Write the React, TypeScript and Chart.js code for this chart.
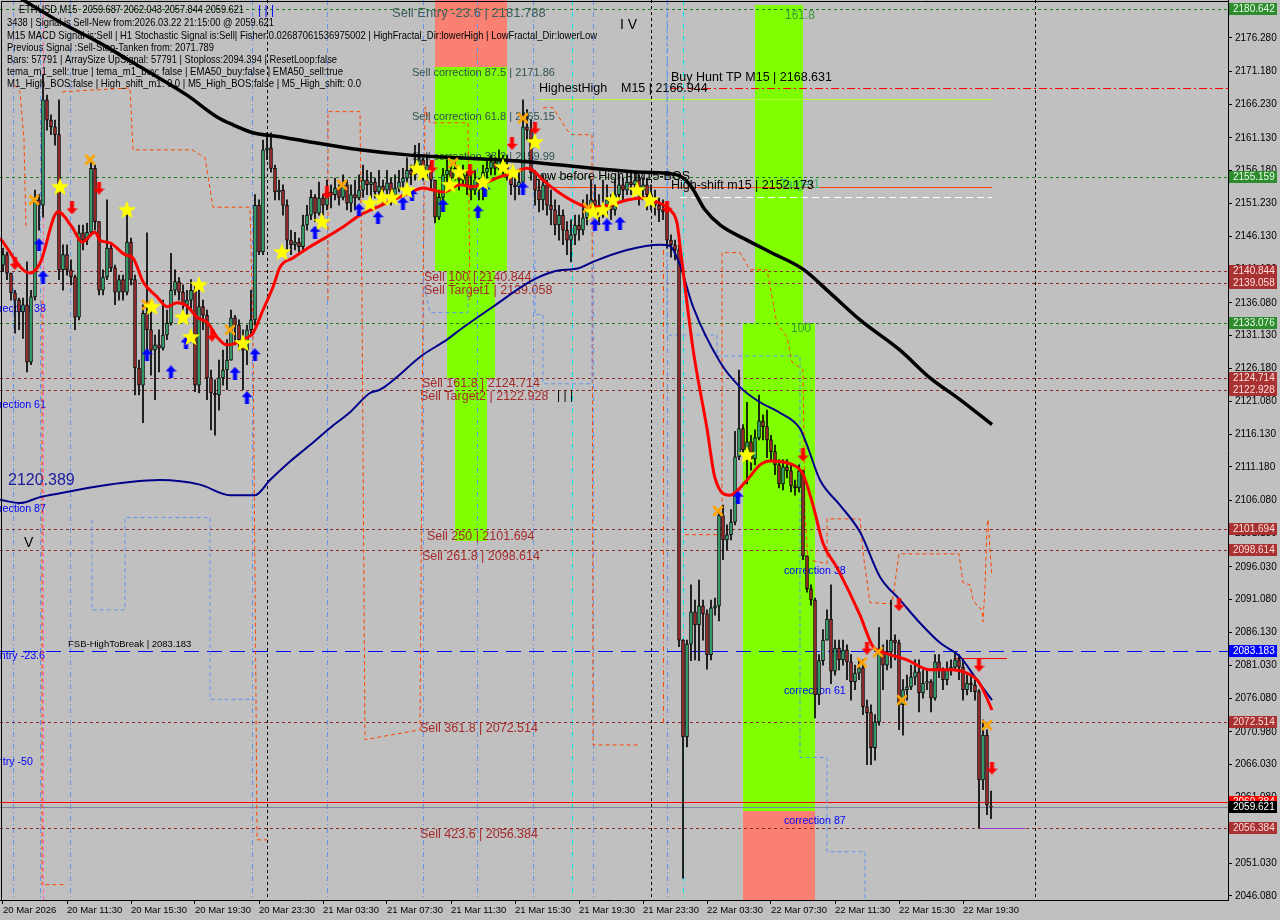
import React, { useEffect, useRef } from "react";
import { Chart, registerables } from "chart.js";

Chart.register(...registerables);

const FONT = '"Liberation Sans", Arial, sans-serif';

// ---------------- axes ----------------
const Y_MIN = 2045.47;
const Y_MAX = 2182.04;
const X_MIN = -0.75;
const X_MAX = 306.25;

const Y_TICKS = [2046.08, 2051.03, 2056.13, 2061.08, 2066.03, 2070.98, 2076.08, 2081.03, 2086.13, 2091.08, 2096.03, 2101.13, 2106.08, 2111.18, 2116.13, 2121.08, 2126.18, 2131.13, 2136.08, 2141.18, 2146.13, 2151.23, 2156.18, 2161.13, 2166.23, 2171.18, 2176.28];
const X_TICK_BARS = [0, 16, 32, 48, 64, 80, 96, 112, 128, 144, 160, 176, 192, 208, 224, 240];
const X_TICK_LABELS = ["20 Mar 2026", "20 Mar 11:30", "20 Mar 15:30", "20 Mar 19:30", "20 Mar 23:30", "21 Mar 03:30", "21 Mar 07:30", "21 Mar 11:30", "21 Mar 15:30", "21 Mar 19:30", "21 Mar 23:30", "22 Mar 03:30", "22 Mar 07:30", "22 Mar 11:30", "22 Mar 15:30", "22 Mar 19:30"];

// ---------------- candles (M15, bar index 0 = 20 Mar 07:30) ----------------
const OPENS = [2141.8, 2143.4, 2140.6, 2137.6, 2136.5, 2134.7, 2135.8, 2127.1, 2137.0, 2151.7,
 2150.9, 2166.9, 2163.8, 2162.8, 2161.6, 2141.1, 2143.4, 2141.1, 2140.0, 2133.9,
 2146.7, 2145.6, 2146.8, 2156.5, 2148.4, 2138.0, 2140.0, 2144.4, 2141.4, 2137.7,
 2139.6, 2137.7, 2145.3, 2139.6, 2126.2, 2123.6, 2134.5, 2132.0, 2128.9, 2129.7,
 2129.2, 2131.2, 2133.0, 2138.0, 2139.3, 2137.7, 2135.8, 2136.5, 2138.0, 2123.6,
 2135.5, 2134.2, 2124.7, 2122.4, 2122.1, 2124.7, 2125.9, 2127.4, 2133.8, 2132.7,
 2130.5, 2128.9, 2132.0, 2133.5, 2150.9, 2143.8, 2159.3, 2159.6, 2156.5, 2152.9,
 2153.2, 2150.9, 2145.6, 2144.9, 2145.3, 2144.6, 2147.9, 2149.4, 2152.1, 2149.7,
 2152.0, 2150.9, 2152.9, 2152.5, 2153.5, 2152.1, 2154.0, 2151.2, 2152.5, 2152.0,
 2153.2, 2154.7, 2154.0, 2154.4, 2152.9, 2153.8, 2153.2, 2154.3, 2152.5, 2153.5,
 2154.4, 2155.0, 2156.2, 2155.5, 2157.0, 2157.8, 2155.9, 2157.0, 2154.7, 2149.1,
 2152.1, 2155.5, 2156.2, 2155.0, 2156.5, 2154.7, 2155.5, 2154.0, 2153.2, 2154.7,
 2153.7, 2155.9, 2156.5, 2157.5, 2156.5, 2157.8, 2157.0, 2155.5, 2154.0, 2153.7,
 2154.4, 2162.8, 2162.3, 2155.8, 2153.2, 2151.7, 2154.0, 2150.9, 2150.2, 2147.9,
 2149.4, 2147.1, 2145.6, 2146.4, 2147.9, 2147.1, 2149.0, 2150.2, 2151.7, 2150.9,
 2149.4, 2150.9, 2151.7, 2150.2, 2152.5, 2154.0, 2153.2, 2154.4, 2154.0, 2154.7,
 2153.2, 2154.0, 2152.5, 2151.7, 2150.9, 2150.2, 2149.9, 2145.6, 2144.9, 2144.1,
 2084.9, 2070.2, 2084.3, 2089.2, 2087.2, 2090.1, 2088.9, 2082.7, 2089.8, 2090.1,
 2103.8, 2100.1, 2100.9, 2102.8, 2112.7, 2117.0, 2113.8, 2115.0, 2112.4, 2115.6,
 2118.2, 2117.3, 2115.3, 2113.5, 2111.5, 2108.6, 2111.2, 2110.6, 2108.3, 2108.0,
 2110.6, 2097.7, 2092.7, 2091.0, 2076.6, 2081.8, 2084.9, 2088.1, 2080.2, 2083.7,
 2081.9, 2083.4, 2081.6, 2078.6, 2079.9, 2080.7, 2074.8, 2073.9, 2068.6, 2072.5,
 2083.1, 2081.1, 2083.1, 2084.9, 2084.5, 2075.1, 2077.4, 2077.8, 2079.3, 2080.1,
 2076.9, 2078.4, 2078.6, 2076.1, 2081.6, 2080.4, 2078.9, 2080.4, 2080.8, 2081.9,
 2080.8, 2077.4, 2078.4, 2078.1, 2077.1, 2063.7, 2070.5, 2059.7];

const HIGHS = [2144.4, 2143.8, 2139.9, 2138.0, 2136.8, 2136.8, 2142.3, 2138.0, 2153.2, 2152.5,
 2170.7, 2167.6, 2164.6, 2163.8, 2166.9, 2144.9, 2144.9, 2142.6, 2140.3, 2147.9,
 2147.9, 2148.2, 2157.5, 2157.0, 2147.9, 2141.1, 2151.7, 2144.9, 2141.8, 2140.3,
 2140.3, 2150.2, 2145.9, 2140.3, 2127.4, 2135.8, 2146.7, 2135.0, 2131.2, 2132.0,
 2136.5, 2135.0, 2143.6, 2141.1, 2139.9, 2138.8, 2138.0, 2139.6, 2138.8, 2139.6,
 2136.5, 2135.0, 2125.9, 2124.4, 2127.4, 2128.9, 2130.5, 2135.0, 2134.2, 2133.5,
 2132.0, 2132.7, 2138.0, 2152.5, 2151.7, 2160.8, 2161.9, 2161.9, 2157.0, 2154.7,
 2154.0, 2151.7, 2147.1, 2146.8, 2145.9, 2149.4, 2150.9, 2153.2, 2152.5, 2154.4,
 2152.5, 2154.7, 2154.0, 2155.0, 2154.0, 2155.5, 2154.7, 2154.0, 2154.7, 2155.5,
 2157.0, 2156.2, 2155.9, 2155.0, 2156.2, 2154.7, 2156.2, 2155.0, 2155.5, 2156.2,
 2156.5, 2158.1, 2157.0, 2160.0, 2160.3, 2158.1, 2158.5, 2157.5, 2154.0, 2153.2,
 2156.5, 2157.8, 2157.0, 2157.8, 2157.0, 2157.0, 2155.9, 2155.5, 2156.2, 2155.0,
 2157.0, 2157.8, 2158.5, 2158.1, 2159.3, 2158.5, 2158.5, 2156.2, 2156.2, 2156.2,
 2166.9, 2165.4, 2163.8, 2156.2, 2154.7, 2155.5, 2154.7, 2153.2, 2151.7, 2150.9,
 2150.2, 2148.4, 2148.7, 2149.4, 2149.4, 2151.7, 2152.5, 2154.7, 2154.0, 2152.5,
 2154.7, 2154.0, 2152.5, 2154.7, 2155.5, 2155.0, 2155.9, 2156.2, 2155.9, 2155.5,
 2155.0, 2155.0, 2154.0, 2153.2, 2152.0, 2151.7, 2150.9, 2146.4, 2145.6, 2144.9,
 2085.0, 2084.9, 2093.3, 2091.0, 2094.0, 2091.0, 2089.5, 2091.0, 2091.3, 2104.5,
 2105.4, 2102.4, 2104.7, 2116.6, 2125.9, 2117.6, 2121.0, 2116.0, 2116.8, 2122.1,
 2119.1, 2119.8, 2116.0, 2114.5, 2112.3, 2112.3, 2112.3, 2111.5, 2109.2, 2111.5,
 2110.7, 2097.7, 2093.3, 2091.3, 2082.7, 2086.5, 2089.5, 2093.3, 2084.9, 2084.9,
 2084.9, 2084.2, 2082.7, 2081.1, 2081.9, 2081.9, 2075.8, 2075.1, 2073.6, 2086.8,
 2084.2, 2084.9, 2091.0, 2085.7, 2084.9, 2078.9, 2079.6, 2081.1, 2081.9, 2081.9,
 2080.4, 2080.4, 2078.9, 2082.7, 2082.7, 2080.7, 2081.6, 2081.9, 2083.1, 2082.7,
 2081.9, 2079.6, 2079.6, 2078.9, 2077.4, 2072.8, 2071.3, 2062.0];

const LOWS = [2140.8, 2139.6, 2136.5, 2131.5, 2132.0, 2130.7, 2125.6, 2126.7, 2136.5, 2147.1,
 2149.1, 2162.3, 2161.6, 2160.0, 2139.6, 2138.0, 2140.3, 2138.8, 2132.0, 2133.5,
 2144.1, 2144.9, 2146.4, 2147.1, 2137.3, 2137.3, 2139.6, 2140.8, 2135.8, 2136.5,
 2136.5, 2137.3, 2138.8, 2122.1, 2122.1, 2117.9, 2127.4, 2125.1, 2121.4, 2125.6,
 2128.9, 2130.5, 2132.7, 2137.3, 2136.5, 2133.5, 2134.2, 2135.0, 2122.6, 2122.4,
 2132.0, 2121.4, 2116.8, 2116.0, 2119.8, 2123.6, 2122.9, 2127.4, 2129.7, 2128.9,
 2122.9, 2126.7, 2131.2, 2132.7, 2143.4, 2143.4, 2157.8, 2155.9, 2151.7, 2151.7,
 2149.4, 2143.8, 2143.4, 2144.1, 2143.4, 2144.1, 2147.1, 2148.7, 2148.4, 2149.4,
 2149.4, 2150.2, 2150.5, 2151.7, 2150.9, 2151.7, 2150.2, 2149.9, 2150.2, 2151.7,
 2152.1, 2152.5, 2151.7, 2152.0, 2151.7, 2150.9, 2152.5, 2150.9, 2151.7, 2152.9,
 2153.2, 2154.0, 2154.0, 2154.7, 2155.9, 2154.7, 2155.0, 2153.2, 2148.2, 2148.7,
 2151.7, 2154.0, 2154.0, 2154.7, 2153.2, 2154.0, 2152.5, 2151.7, 2152.5, 2151.7,
 2151.7, 2155.0, 2155.5, 2155.5, 2156.2, 2155.5, 2154.7, 2152.5, 2151.7, 2152.5,
 2154.0, 2160.8, 2154.7, 2150.9, 2149.9, 2150.2, 2149.4, 2147.9, 2146.4, 2145.6,
 2144.9, 2143.4, 2142.3, 2144.9, 2145.6, 2146.4, 2147.9, 2149.4, 2149.4, 2147.9,
 2149.0, 2149.4, 2148.7, 2149.4, 2151.7, 2151.7, 2152.5, 2152.5, 2152.9, 2150.9,
 2151.7, 2150.2, 2150.2, 2149.4, 2148.4, 2148.7, 2144.4, 2143.0, 2142.6, 2083.9,
 2048.8, 2068.7, 2081.8, 2081.9, 2081.8, 2084.9, 2080.5, 2081.9, 2088.7, 2087.8,
 2097.1, 2098.6, 2100.1, 2102.4, 2112.3, 2113.0, 2108.6, 2110.7, 2111.5, 2115.3,
 2115.3, 2112.6, 2112.3, 2110.0, 2108.0, 2107.7, 2109.5, 2107.4, 2106.9, 2107.4,
 2097.1, 2092.2, 2090.2, 2073.1, 2075.1, 2081.1, 2084.9, 2078.3, 2079.6, 2080.4,
 2081.1, 2078.9, 2075.8, 2077.4, 2078.9, 2073.6, 2066.0, 2066.0, 2066.7, 2072.0,
 2077.4, 2080.4, 2080.7, 2081.9, 2071.3, 2070.5, 2075.8, 2077.4, 2078.1, 2074.0,
 2076.1, 2077.4, 2074.0, 2075.8, 2079.2, 2077.4, 2078.1, 2079.6, 2080.4, 2078.9,
 2075.8, 2076.6, 2077.1, 2075.8, 2056.4, 2062.2, 2058.4, 2057.8];

const CLOSES = [2143.4, 2140.6, 2137.6, 2136.5, 2134.7, 2135.8, 2127.1, 2137.0, 2151.7, 2150.9,
 2166.9, 2163.8, 2162.8, 2161.6, 2141.1, 2143.4, 2141.1, 2140.0, 2133.9, 2146.7,
 2145.6, 2146.8, 2156.5, 2148.4, 2138.0, 2140.0, 2144.4, 2141.4, 2137.7, 2139.6,
 2137.7, 2145.3, 2139.6, 2126.2, 2123.6, 2134.5, 2132.0, 2128.9, 2129.7, 2129.2,
 2131.2, 2133.0, 2138.0, 2139.3, 2137.7, 2135.8, 2136.5, 2138.0, 2123.6, 2135.5,
 2134.2, 2124.7, 2122.4, 2122.1, 2124.7, 2125.9, 2127.4, 2133.8, 2132.7, 2130.5,
 2128.9, 2132.0, 2133.5, 2150.9, 2143.8, 2159.3, 2159.6, 2156.5, 2152.9, 2153.2,
 2150.9, 2145.6, 2144.9, 2145.3, 2144.6, 2147.9, 2149.4, 2152.1, 2149.7, 2152.0,
 2150.9, 2152.9, 2152.5, 2153.5, 2152.1, 2154.0, 2151.2, 2152.5, 2152.0, 2153.2,
 2154.7, 2154.0, 2154.4, 2152.9, 2153.8, 2153.2, 2154.3, 2152.5, 2153.5, 2154.4,
 2155.0, 2156.2, 2155.5, 2157.0, 2157.8, 2155.9, 2157.0, 2154.7, 2149.1, 2152.1,
 2155.5, 2156.2, 2155.0, 2156.5, 2154.7, 2155.5, 2154.0, 2153.2, 2154.7, 2153.7,
 2155.9, 2156.5, 2157.5, 2156.5, 2157.8, 2157.0, 2155.5, 2154.0, 2153.7, 2154.4,
 2162.8, 2162.3, 2155.8, 2153.2, 2151.7, 2154.0, 2150.9, 2150.2, 2147.9, 2149.4,
 2147.1, 2145.6, 2146.4, 2147.9, 2147.1, 2149.0, 2150.2, 2151.7, 2150.9, 2149.4,
 2150.9, 2151.7, 2150.2, 2152.5, 2154.0, 2153.2, 2154.4, 2154.0, 2154.7, 2153.2,
 2154.0, 2152.5, 2151.7, 2150.9, 2150.2, 2149.9, 2145.6, 2144.9, 2144.1, 2084.9,
 2070.2, 2084.3, 2089.2, 2087.2, 2090.1, 2088.9, 2082.7, 2089.8, 2090.1, 2103.8,
 2100.1, 2100.9, 2102.8, 2112.7, 2117.0, 2113.8, 2115.0, 2112.4, 2115.6, 2118.2,
 2117.3, 2115.3, 2113.5, 2111.5, 2108.6, 2111.2, 2110.6, 2108.3, 2108.0, 2110.6,
 2097.7, 2092.7, 2091.0, 2076.6, 2081.8, 2084.9, 2088.1, 2080.2, 2083.7, 2081.9,
 2083.4, 2081.6, 2078.6, 2079.9, 2080.7, 2074.8, 2073.9, 2068.6, 2072.5, 2083.1,
 2081.1, 2083.1, 2084.9, 2084.5, 2075.1, 2077.4, 2077.8, 2079.3, 2080.1, 2076.9,
 2078.4, 2078.6, 2076.1, 2081.6, 2080.4, 2078.9, 2080.4, 2080.8, 2081.9, 2080.8,
 2077.4, 2078.4, 2078.1, 2077.1, 2063.7, 2070.5, 2059.9, 2059.6];

// ---------------- moving averages ----------------
const RED_MA_BARS = [-0.75, 6.75, 9.25, 13.75, 17.25, 19.75, 23, 24.25, 26.75, 30.5, 32.5, 35, 38.5, 41, 43.5, 46, 48.5, 51.25, 53.5, 56, 58.5, 61, 62.5, 65, 67.5, 69.25, 72.5, 76.75, 81, 85, 89.25, 93.5, 97.5, 101.75, 105, 107.5, 110, 114.25, 117.5, 121, 124.25, 127.5, 131, 132.5, 135, 139.25, 143.5, 146.75, 151.75, 156, 160, 164.25, 166.75, 168.5, 169.5, 172.5, 176, 178, 181.75, 186, 189.25, 191.75, 197.5, 200, 202.5, 205, 208.5, 214.25, 217.5, 220, 226, 231.75, 236.75, 241, 243.5, 245, 247.25];
const RED_MA_VALUES = [2145.9, 2140.6, 2142.1, 2149.9, 2147.6, 2145.3, 2146.8, 2145.6, 2145.2, 2143.4, 2142.9, 2139.3, 2137.0, 2135.5, 2136.1, 2135.6, 2133.9, 2133.0, 2130.9, 2129.7, 2130.0, 2130.8, 2131.5, 2135.0, 2138.5, 2141.5, 2142.9, 2144.6, 2146.1, 2147.6, 2149.4, 2150.6, 2151.7, 2152.8, 2153.5, 2153.2, 2152.9, 2154.0, 2153.7, 2154.4, 2155.2, 2155.8, 2156.5, 2156.2, 2154.7, 2152.7, 2151.2, 2150.6, 2150.9, 2151.7, 2152.0, 2151.2, 2150.2, 2148.2, 2143.5, 2129.1, 2117.0, 2109.5, 2106.9, 2109.2, 2111.5, 2112.1, 2111.5, 2110.1, 2105.4, 2099.6, 2095.9, 2088.7, 2083.9, 2083.1, 2081.9, 2080.4, 2080.4, 2079.9, 2078.9, 2077.4, 2074.3];

const BLUE_MA_BARS = [-0.75, 4.25, 9.25, 14.25, 24.25, 31.75, 39.25, 49.25, 56.75, 63, 66.75, 71.75, 76.75, 81.75, 86.75, 91.75, 94.25, 105, 111, 114.25, 122.5, 131.75, 137.5, 144.25, 147.5, 156, 164.25, 166.75, 169.25, 172.5, 179.25, 184.25, 189.25, 194.25, 199.25, 201, 204.25, 209.25, 214.25, 219.25, 224.25, 229.25, 234.25, 239.25, 243, 247.25];
const BLUE_MA_VALUES = [2106.2, 2105.7, 2106.6, 2107.2, 2108.3, 2108.9, 2109.2, 2108.5, 2106.9, 2106.9, 2109.2, 2112.0, 2114.5, 2117.1, 2119.5, 2122.4, 2122.9, 2128.2, 2130.5, 2132.0, 2135.5, 2139.3, 2140.8, 2141.4, 2142.3, 2144.1, 2144.9, 2144.7, 2141.8, 2135.5, 2127.1, 2123.3, 2121.0, 2119.4, 2117.0, 2114.5, 2109.2, 2105.4, 2101.3, 2094.5, 2091.0, 2087.5, 2084.5, 2082.4, 2079.3, 2075.8];

const BLACK_MA_BARS = [3, 14.25, 24.25, 34.25, 46, 53.5, 57.5, 62.5, 69.25, 76.75, 89.25, 101.75, 114.25, 131, 147.5, 160, 168.5, 171.75, 175.5, 179.25, 186, 191.75, 200, 206.75, 214.25, 224.25, 231.75, 239.25, 247.25];
const BLACK_MA_VALUES = [2182.8, 2178.7, 2175.5, 2171.9, 2167.6, 2164.3, 2163.1, 2161.9, 2161.3, 2160.5, 2159.3, 2158.5, 2158.1, 2157.5, 2156.5, 2155.9, 2155.5, 2154.0, 2150.2, 2147.9, 2145.6, 2143.8, 2141.2, 2137.6, 2133.5, 2128.9, 2124.7, 2121.4, 2117.6];

// ---------------- step bands (null = break) ----------------
const ORANGE_BAND_BARS = [2.75, 4.25, 5.25, 5.75, 5.75,
 9.75, 9.75, 15.5, 15.5,
 14.75, 31.75, 32.5, 47.25, 50.5, 52.5, 61.75, 62.5, 63.25, 63.5, 66, 66,
 81.25, 81.25, 89.25, 89.75, 90.5, 104.25, 105, 105.5, 106.75, 116.25, 116.75, 116.75,
 135, 137.5, 141, 142.25, 147.25, 147.5, 159.25, 159.25,
 170.5, 179.75, 179.75, 184.25, 186.75, 191, 193.5, 196, 197.25, 200, 200.5, 201.25, 206, 206, 214.25, 215, 216.75, 222.25, 224, 239, 240, 241.75, 242.5, 243.75, 244.75, 245, 245.5, 246, 246.25, 246.75, 247.25];
const ORANGE_BAND_VALUES = [2169.2, 2168.1, 2160.8, 2147.2, null,
 2136.5, 2047.8, 2047.8, null,
 2168.1, 2168.7, 2159.3, 2159.3, 2158.1, 2150.6, 2150.6, 2132.0, 2075.9, 2054.6, 2054.6, null,
 2136.5, 2165.1, 2165.1, 2136.5, 2069.8, 2071.3, 2136.5, 2165.8, 2163.4, 2163.4, 2136.5, null,
 2165.7, 2165.7, 2162.3, 2161.6, 2161.6, 2069.0, 2069.0, null,
 2100.9, 2100.9, 2143.7, 2143.7, 2141.1, 2141.1, 2132.9, 2130.9, 2127.1, 2125.9, 2104.1, 2097.1, 2096.5, 2103.3, 2103.3, 2098.2, 2090.6, 2090.4, 2098.0, 2098.0, 2093.6, 2093.3, 2091.0, 2090.0, 2089.5, 2087.7, 2093.0, 2102.1, 2103.2, 2098.6, 2094.5];

const BLUE_BAND_BARS = [22.25, 22.25, 30.5, 30.5, 51.75, 51.75, 63, 63,
 105, 106.75, 116.25, 116.25, 116.25,
 133, 133, 135, 135, 147.25, 147.25, 147.25,
 166, 166, 178.5, 178.5, 199.25, 199.25, 206, 206, 215.5, 215.5];
const BLUE_BAND_VALUES = [2103.2, 2089.5, 2089.5, 2103.5, 2103.5, 2075.9, 2075.9, null,
 2139.6, 2134.6, 2134.6, 2138.1, null,
 2142.6, 2134.3, 2134.3, 2123.8, 2123.8, 2142.3, null,
 2182.0, 2131.2, 2131.2, 2128.0, 2128.0, 2067.1, 2067.1, 2052.8, 2052.8, 2045.5];

// ---------------- signal markers ----------------
const STAR_BARS = [14.25, 31, 49, 37.25, 45, 47, 60, 69.75, 79.75, 91.75, 94.75, 97.25, 101, 103.5, 105, 111.75, 114, 120, 125, 127.5, 133, 147.5, 150, 152.5, 158.5, 161.75, 186];
const STAR_PRICES = [2153.7, 2150.2, 2138.8, 2135.5, 2133.9, 2130.9, 2130.0, 2143.8, 2148.4, 2151.2, 2152.1, 2152.1, 2153.2, 2156.5, 2155.8, 2154.0, 2155.9, 2154.4, 2156.7, 2155.9, 2160.5, 2149.9, 2150.2, 2151.7, 2153.2, 2151.7, 2113.0];
const UP_BARS = [9, 10, 36, 42, 45.75, 58, 61, 63, 78, 89, 93.75, 100, 102.25, 110, 118.75, 120.5, 130, 148, 151, 154.25, 183.75];
const UP_PRICES = [2144.9, 2140.0, 2128.2, 2125.6, 2130.0, 2125.4, 2121.7, 2128.2, 2146.8, 2150.2, 2149.0, 2151.2, 2152.5, 2150.9, 2149.9, 2153.2, 2153.5, 2147.9, 2147.9, 2148.2, 2106.6];
const DOWN_BARS = [3, 17.25, 24, 52.25, 81, 107.25, 116.75, 127.25, 133, 166, 200, 216, 224, 244, 247.25];
const DOWN_PRICES = [2142.1, 2150.5, 2153.5, 2131.2, 2152.8, 2156.7, 2156.2, 2160.3, 2162.6, 2150.6, 2113.0, 2083.7, 2090.3, 2081.1, 2065.5];
const CROSS_BARS = [7.75, 21.75, 36, 56.75, 84.75, 112.5, 130, 146.25, 178.75, 214.75, 218.75, 224.75, 246];
const CROSS_PRICES = [2151.7, 2157.8, 2135.8, 2132.0, 2154.0, 2157.3, 2164.1, 2150.5, 2104.5, 2081.5, 2083.1, 2075.8, 2072.0];

// ---------------- levels / zones ----------------
const LEVELS_GREEN = [2180.642, 2155.159, 2133.076];
const LEVELS_BROWN = [2140.844, 2139.058, 2124.714, 2122.928, 2101.694, 2098.614, 2072.514, 2056.384];
const LEVEL_BLUE = 2083.183;
const LEVEL_RED = 2060.384;
const LEVEL_BID = 2059.621;
const SEG_PRICES = [2168.631, 2166.944, 2153.67, 2152.173, 2082.2, 2056.4];
const SEG_FROM = [167, 134, 133.5, 169.25, 238, 244.25];
const SEG_TO = [306.25, 247.25, 247.25, 247.25, 251, 255.5];

const ZONE_FROM = [108, 108, 111, 113, 188, 185, 185];
const ZONE_TO = [126, 126, 123, 121, 200, 203, 203];
const ZONE_TOP = [2182.04, 2171.86, 2140.844, 2124.714, 2181.3, 2133.076, 2058.9];
const ZONE_BOTTOM = [2171.86, 2140.844, 2124.714, 2100.0, 2133.076, 2058.9, 2045.47];
const ZONE_KIND = ["salmon", "lime", "lime", "lime", "lime", "lime", "salmon"];

const VLINE_BLUE_BARS = [2.5, 9.25, 16.75, 62.25, 81, 105, 118.5, 132.5, 147.5, 166];
const VLINE_CYAN_BARS = [142.25, 170];
const VLINE_PINK_BARS = [10];
const VLINE_SEP_BARS = [66, 162, 258];
const VLINE_ORANGE_BARS = [165];
const VLINE_ORANGE_TOP = [2144.1];
const VLINE_ORANGE_BOTTOM = [2071.9];

const PRICE_BOX_VALUES = [2180.642, 2155.159, 2140.844, 2139.058, 2133.076, 2124.714, 2122.928, 2101.694, 2098.614, 2083.183, 2072.514, 2056.384, 2060.384, 2059.621];
const PRICE_BOX_KIND = ["g", "g", "b", "b", "g", "b", "b", "b", "b", "blue", "b", "b", "red", "black"];

// text, bar, price, kind
const CHART_TEXTS: [string, number, number, string][] = [
  ["Sell Entry -23.6 | 2181.788", 97.25, 2180.07, "entry"],
  ["Sell correction 87.5 | 2171.86", 102.25, 2170.97, "corr"],
  ["Sell correction 61.8 | 2165.15", 102.25, 2164.29, "corr"],
  ["Sell correction 38.2 | 2159.99", 102.25, 2158.22, "corr"],
  ["Sell 100 | 2140.844", 105.25, 2139.87, "sell"],
  ["Sell Target1 | 2139.058", 105.25, 2137.9, "sell"],
  ["Sell 161.8 | 2124.714", 104.75, 2123.79, "sell"],
  ["Sell Target2 | 2122.928", 104.25, 2121.82, "sell"],
  ["Sell 250 | 2101.694", 106, 2100.58, "sell"],
  ["Sell 261.8 | 2098.614", 104.75, 2097.54, "sell"],
  ["Sell 361.8 | 2072.514", 104.25, 2071.45, "sell"],
  ["Sell 423.6 | 2056.384", 104.25, 2055.37, "sell"],
  ["HighestHigh    M15 | 2166.944", 134, 2168.54, "info"],
  ["Buy Hunt TP M15 | 2168.631", 167, 2170.21, "info"],
  ["Low before High - M15-BOS", 132.5, 2155.19, "info"],
  ["Target1", 194.25, 2153.98, "greenSmall"],
  ["High-shift m15 | 2152.173", 167, 2153.82, "info"],
  ["FSB-HighToBreak | 2083.183", 16.25, 2084.19, "fsb"],
  ["correction 38", 195.25, 2095.42, "blue"],
  ["correction 61", 195.25, 2077.24, "blue"],
  ["correction 87", 195.25, 2057.49, "blue"],
  ["correction 38", 10.75, 2135.17, "blueR"],
  ["correction 61", 10.75, 2120.6, "blueR"],
  ["correction 87", 10.75, 2104.82, "blueR"],
  ["Sell Entry -23.6", 10.5, 2082.53, "blueR"],
  ["Sell Entry -50", 7.5, 2066.44, "blueR"],
  ["2120.389", 1.25, 2109.07, "navy"],
  ["161.8", 195.5, 2179.61, "green"],
  ["100", 197, 2132.13, "green"],
  ["I V", 154.25, 2178.25, "mark"],
  ["V", 5.25, 2099.67, "mark"],
  ["| | |", 138.5, 2122.0, "markSmall"],
  ["| | |", 63.75, 2180.37, "markBlue"],
];

const HEADER_LINES = [
  "ETHUSD,M15  2059.687 2062.043 2057.844 2059.621",
  "3438 | Signal is Sell-New from:2026.03.22 21:15:00 @ 2059.621",
  "M15 MACD Signal is:Sell | H1 Stochastic Signal is:Sell| Fisher:0.02687061536975002 | HighFractal_Dir:lowerHigh | LowFractal_Dir:lowerLow",
  "Previous Signal :Sell-Stop-Tanken from: 2071.789",
  "Bars: 57791 | ArraySize UpSignal: 57791 | Stoploss:2094.394 | ResetLoop:false",
  "tema_m1_sell: true | tema_m1_buy: false | EMA50_buy:false | EMA50_sell:true",
  "M1_High_BOS:false | High_shift_m1: 0.0 | M5_High_BOS:false | M5_High_shift: 0.0",
];

// ---------------- styles ----------------
const TEXT_STYLE: Record<string, { color: string; size: number; align?: CanvasTextAlign }> = {
  entry: { color: "#3e5c5c", size: 13 },
  corr: { color: "#2f4f4f", size: 11 },
  sell: { color: "#a52a2a", size: 12.5 },
  info: { color: "#000000", size: 12.5 },
  fsb: { color: "#000000", size: 9.5 },
  blue: { color: "#0000ff", size: 10.7 },
  blueR: { color: "#0000ff", size: 10.7, align: "right" },
  navy: { color: "#1a1a9a", size: 16 },
  green: { color: "#3a9a3a", size: 12 },
  greenSmall: { color: "#3cb371", size: 12 },
  mark: { color: "#000000", size: 14 },
  markSmall: { color: "#000000", size: 12 },
  markBlue: { color: "#0000ff", size: 12 },
};
const SEG_STYLE = [
  { color: "#ff0000", dash: [8, 3, 2, 3] },
  { color: "#adff2f", dash: [] },
  { color: "#ff4500", dash: [] },
  { color: "#ffffff", dash: [7, 4] },
  { color: "#ff0000", dash: [] },
  { color: "#9932cc", dash: [] },
];
const BOX_STYLE: Record<string, { bg: string; fg: string }> = {
  g: { bg: "#2e8b2e", fg: "#eaffea" },
  b: { bg: "#a83232", fg: "#ffdede" },
  blue: { bg: "#0000ff", fg: "#ffffff" },
  red: { bg: "#ff0000", fg: "#ffffff" },
  black: { bg: "#000000", fg: "#ffffff" },
};
const HEADER_POS = [
  [19, 10, 225], [7, 23, 267], [7, 36, 590], [7, 48, 207], [7, 60, 330], [7, 72, 336], [7, 84, 354],
];

function makeStar() {
  const c = document.createElement("canvas");
  c.width = 20; c.height = 20;
  const g = c.getContext("2d")!;
  g.beginPath();
  for (let k = 0; k < 10; k++) {
    const r = k % 2 ? 4 : 9.5;
    const a = -Math.PI / 2 + (k * Math.PI) / 5;
    g.lineTo(10 + r * Math.cos(a), 10.5 + r * Math.sin(a));
  }
  g.closePath();
  g.fillStyle = "#ffff00";
  g.fill();
  return c;
}
function makeArrow(up: boolean, color: string) {
  const c = document.createElement("canvas");
  c.width = 11; c.height = 13;
  const g = c.getContext("2d")!;
  if (!up) { g.translate(0, 13); g.scale(1, -1); }
  g.beginPath();
  g.moveTo(5.5, 0); g.lineTo(11, 6); g.lineTo(7.5, 6); g.lineTo(7.5, 13);
  g.lineTo(3.5, 13); g.lineTo(3.5, 6); g.lineTo(0, 6); g.closePath();
  g.fillStyle = color; g.fill();
  return c;
}
function makeCross() {
  const c = document.createElement("canvas");
  c.width = 12; c.height = 12;
  const g = c.getContext("2d")!;
  g.strokeStyle = "#ffa500"; g.lineWidth = 2.6; g.lineCap = "round";
  g.beginPath(); g.moveTo(2, 2); g.lineTo(10, 10); g.moveTo(10, 2); g.lineTo(2, 10); g.stroke();
  return c;
}

const xy = (bars: number[], vals: (number | null)[]) => bars.map((b, i) => ({ x: b, y: vals[i] }));

const overlayPlugin = {
  id: "mtOverlay",
  beforeDraw(chart: any) {
    const ctx = chart.ctx;
    ctx.save();
    ctx.fillStyle = "#c0c0c0";
    ctx.fillRect(0, 0, chart.width, chart.height);
    ctx.restore();
  },
  beforeDatasetsDraw(chart: any) {
    const { ctx, chartArea: a } = chart;
    const X = (b: number) => chart.scales.x.getPixelForValue(b);
    const Y = (p: number) => chart.scales.y.getPixelForValue(p);
    ctx.save();
    ctx.beginPath();
    ctx.rect(a.left, a.top, a.right - a.left, a.bottom - a.top);
    ctx.clip();

    for (let i = 0; i < ZONE_FROM.length; i++) {
      ctx.fillStyle = ZONE_KIND[i] === "lime" ? "#7fff00" : "#fa8072";
      const x1 = Math.round(X(ZONE_FROM[i])), x2 = Math.round(X(ZONE_TO[i]));
      const y1 = Math.round(Y(ZONE_TOP[i])), y2 = Math.round(Y(ZONE_BOTTOM[i]));
      ctx.fillRect(x1, y1, x2 - x1, y2 - y1);
    }

    const vline = (b: number, color: string, dash: number[], top = a.top, bottom = a.bottom) => {
      const x = Math.round(X(b)) + 0.5;
      ctx.beginPath(); ctx.setLineDash(dash); ctx.strokeStyle = color; ctx.lineWidth = 1;
      ctx.moveTo(x, top); ctx.lineTo(x, bottom); ctx.stroke();
    };
    const hline = (p: number, x1: number, x2: number, color: string, dash: number[], w = 1) => {
      const y = Math.round(Y(p)) + 0.5;
      ctx.beginPath(); ctx.setLineDash(dash); ctx.strokeStyle = color; ctx.lineWidth = w;
      ctx.moveTo(x1, y); ctx.lineTo(x2, y); ctx.stroke();
    };

    VLINE_BLUE_BARS.forEach((b) => vline(b, "#6495ed", [5, 3, 1, 3]));
    VLINE_CYAN_BARS.forEach((b) => vline(b, "#00e5ee", [5, 3, 1, 3]));
    VLINE_PINK_BARS.forEach((b) => vline(b, "#ff69b4", [4, 3]));
    VLINE_ORANGE_BARS.forEach((b, i) => vline(b, "#ff4500", [5, 3, 1, 3], Y(VLINE_ORANGE_TOP[i]), Y(VLINE_ORANGE_BOTTOM[i])));
    VLINE_SEP_BARS.forEach((b) => vline(b, "#000000", [3, 3]));

    LEVELS_GREEN.forEach((p) => hline(p, a.left, a.right, "#1e7b1e", [3, 3]));
    LEVELS_BROWN.forEach((p) => hline(p, a.left, a.right, "#8b2a2a", [3, 3]));
    hline(LEVEL_BLUE, a.left, a.right, "#0000ff", [15, 8]);
    hline(LEVEL_RED, a.left, a.right, "#ff0000", []);
    hline(LEVEL_BID, a.left, a.right, "#778899", []);
    SEG_PRICES.forEach((p, i) => hline(p, X(SEG_FROM[i]), X(SEG_TO[i]), SEG_STYLE[i].color, SEG_STYLE[i].dash));
    ctx.setLineDash([]);

    ctx.textBaseline = "middle";
    CHART_TEXTS.forEach(([t, b, p, kind]) => {
      const s = TEXT_STYLE[kind];
      ctx.font = `${s.size}px ${FONT}`;
      ctx.fillStyle = s.color;
      ctx.textAlign = s.align || "left";
      ctx.fillText(t, X(b), Y(p));
    });

    ctx.textAlign = "left";
    ctx.fillStyle = "#000000";
    ctx.font = `10.5px ${FONT}`;
    HEADER_LINES.forEach((t, i) => {
      const [x, y, w] = HEADER_POS[i];
      const m = ctx.measureText(t).width;
      ctx.save();
      ctx.translate(x, y);
      ctx.scale(w / m, 1);
      ctx.fillText(t, 0, 0);
      ctx.restore();
    });
    ctx.restore();
  },
  afterDraw(chart: any) {
    const { ctx, chartArea: a } = chart;
    const Y = (p: number) => chart.scales.y.getPixelForValue(p);
    ctx.save();
    ctx.strokeStyle = "#000";
    ctx.lineWidth = 1;
    ctx.beginPath();
    ctx.moveTo(1.5, a.bottom); ctx.lineTo(1.5, 1.5); ctx.lineTo(a.right, 1.5);
    ctx.stroke();
    ctx.font = `10px ${FONT}`;
    ctx.textBaseline = "middle";
    ctx.textAlign = "left";
    PRICE_BOX_VALUES.forEach((p, i) => {
      const st = BOX_STYLE[PRICE_BOX_KIND[i]];
      const y = Math.round(Y(p));
      ctx.fillStyle = st.bg;
      ctx.fillRect(a.right + 1, y - 6, 48, 12);
      ctx.fillStyle = st.fg;
      ctx.fillText(p.toFixed(3), a.right + 5, y + 0.5);
    });
    ctx.restore();
  },
};

export default function App() {
  const canvasRef = useRef<HTMLCanvasElement | null>(null);

  useEffect(() => {
    document.body.style.margin = "0";
    const canvas = canvasRef.current;
    if (!canvas) return;
    const star = makeStar();
    const up = makeArrow(true, "#0000ff");
    const down = makeArrow(false, "#ff0000");
    const cross = makeCross();

    const bodyColors = CLOSES.map((c, i) => (c >= OPENS[i] ? "#3cb878" : "#b03030"));
    const wicks = OPENS.map((o, i) => ({
      x: i,
      y: [Math.min(LOWS[i], o, CLOSES[i]), Math.max(HIGHS[i], o, CLOSES[i])],
    }));
    const bodies = OPENS.map((o, i) => ({ x: i, y: [o, CLOSES[i]] }));

    const markerSet = (bars: number[], prices: number[], img: HTMLCanvasElement) => ({
      type: "line" as const,
      data: xy(bars, prices),
      showLine: false,
      pointStyle: img,
      pointRadius: 8,
      order: 0,
    });

    const chart = new Chart(canvas, {
      type: "line",
      data: {
        datasets: [
          { type: "line", data: xy(ORANGE_BAND_BARS, ORANGE_BAND_VALUES), borderColor: "#ff4500", borderWidth: 1, borderDash: [4, 3], pointRadius: 0, tension: 0, spanGaps: false, order: 12 } as any,
          { type: "line", data: xy(BLUE_BAND_BARS, BLUE_BAND_VALUES), borderColor: "#6495ed", borderWidth: 1, borderDash: [4, 3], pointRadius: 0, tension: 0, spanGaps: false, order: 11 } as any,
          { type: "bar", data: wicks, backgroundColor: "#000000", barThickness: 1, grouped: false, order: 10 } as any,
          { type: "bar", data: bodies, backgroundColor: bodyColors, borderColor: "#000000", borderWidth: 1, borderSkipped: false, barThickness: 3, grouped: false, order: 9 } as any,
          { type: "line", data: xy(BLUE_MA_BARS, BLUE_MA_VALUES), borderColor: "#00008b", borderWidth: 2, pointRadius: 0, cubicInterpolationMode: "monotone", order: 4 } as any,
          { type: "line", data: xy(BLACK_MA_BARS, BLACK_MA_VALUES), borderColor: "#000000", borderWidth: 3.5, pointRadius: 0, cubicInterpolationMode: "monotone", order: 3 } as any,
          { type: "line", data: xy(RED_MA_BARS, RED_MA_VALUES), borderColor: "#ff0000", borderWidth: 3, pointRadius: 0, cubicInterpolationMode: "monotone", order: 2 } as any,
          markerSet(STAR_BARS, STAR_PRICES, star) as any,
          markerSet(UP_BARS, UP_PRICES, up) as any,
          markerSet(DOWN_BARS, DOWN_PRICES, down) as any,
          markerSet(CROSS_BARS, CROSS_PRICES, cross) as any,
        ],
      },
      options: {
        responsive: false,
        animation: false,
        devicePixelRatio: 1,
        events: [],
        layout: { padding: 0, autoPadding: false },
        plugins: { legend: { display: false }, tooltip: { enabled: false } },
        scales: {
          x: {
            type: "linear",
            position: "bottom",
            min: X_MIN,
            max: X_MAX,
            offset: false,
            grid: { drawOnChartArea: false, color: "#000000", tickLength: 4, offset: false },
            border: { display: true, color: "#000000" },
            ticks: {
              color: "#000000",
              font: { family: FONT, size: 9.5 },
              align: "start",
              maxRotation: 0,
              minRotation: 0,
              autoSkip: false,
              padding: 1,
              callback: (_v: any, idx: number) => X_TICK_LABELS[idx] ?? "",
            },
            afterBuildTicks: (s: any) => { s.ticks = X_TICK_BARS.map((v) => ({ value: v })); },
            afterFit: (s: any) => { s.height = 20; s.paddingLeft = 0; s.paddingRight = 0; },
          } as any,
          y: {
            type: "linear",
            position: "right",
            min: Y_MIN,
            max: Y_MAX,
            beginAtZero: false,
            grid: { drawOnChartArea: false, color: "#000000", tickLength: 4 },
            border: { display: true, color: "#000000" },
            ticks: {
              color: "#000000",
              font: { family: FONT, size: 10 },
              padding: 3,
              autoSkip: false,
              callback: (v: any) => Number(v).toFixed(3),
            },
            afterBuildTicks: (s: any) => { s.ticks = Y_TICKS.map((v) => ({ value: v })); },
            afterFit: (s: any) => { s.width = 52; s.paddingTop = 0; s.paddingBottom = 0; },
          } as any,
        },
      },
      plugins: [overlayPlugin],
    } as any);

    return () => chart.destroy();
  }, []);

  return (
    <div style={{ width: 1280, height: 920 }}>
      <style>{`body{margin:0}`}</style>
      <canvas ref={canvasRef} width={1280} height={920} style={{ display: "block", width: 1280, height: 920 }} />
    </div>
  );
}
